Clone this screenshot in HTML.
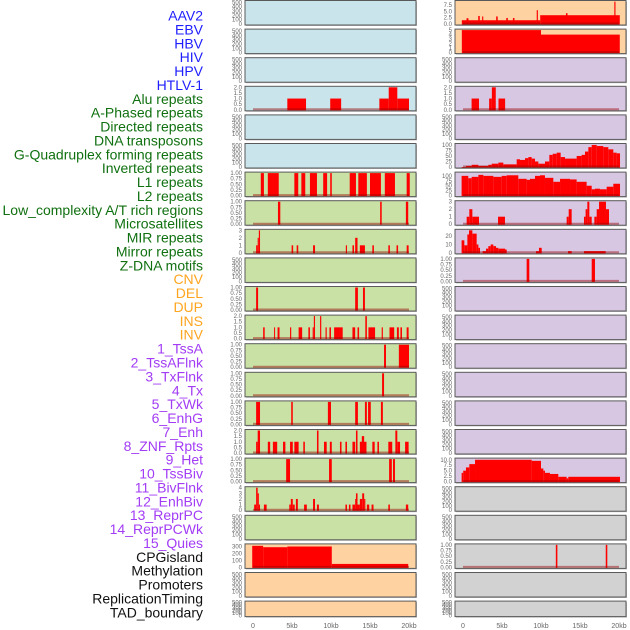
<!DOCTYPE html>
<html><head><meta charset="utf-8"><style>
html,body{margin:0;padding:0;background:#fff;overflow:hidden;}
svg{display:block;font-family:"Liberation Sans",sans-serif;}
</style></head><body>
<svg id="chart" width="630" height="630" viewBox="0 0 630 630"></svg>
<script>
// ---- labels ----
const trackLabels = ["AAV2","EBV","HBV","HIV","HPV","HTLV-1","Alu repeats","A-Phased repeats","Directed repeats","DNA transposons","G-Quadruplex forming repeats","Inverted repeats","L1 repeats","L2 repeats","Low_complexity A/T rich regions","Microsatellites","MIR repeats","Mirror repeats","Z-DNA motifs","CNV","DEL","DUP","INS","INV","1_TssA","2_TssAFlnk","3_TxFlnk","4_Tx","5_TxWk","6_EnhG","7_Enh","8_ZNF_Rpts","9_Het","10_TssBiv","11_BivFlnk","12_EnhBiv","13_ReprPC","14_ReprPCWk","15_Quies","CPGisland","Methylation","Promoters","ReplicationTiming","TAD_boundary"];
const labelGroups = ["v","v","v","v","v","v","r","r","r","r","r","r","r","r","r","r","r","r","r","s","s","s","s","s","c","c","c","c","c","c","c","c","c","c","c","c","c","c","c","o","o","o","o","o"];
const xTickValues = [0,5,10,15,20];
const xTickLabels = ["0","5kb","10kb","15kb","20kb"];

// ---- series (segments: [startKb, endKb, value]) ----
const leftAlu = [[4.4,6.8,1],[9.9,11.3,1],[16.2,17.4,1],[17.4,18.5,2],[18.5,20,1]];
const leftL1 = [[1.0,1.4,1],[1.9,3.3,1],[5.3,5.8,1],[6.2,6.7,1],[7.3,8.2,1],[9.0,9.5,1],[9.9,10.1,1],[12.4,13.2,1],[13.5,14.6,1],[15.0,16.4,1],[16.9,18.2,1],[19.7,20.1,1]];
const leftLowAT = [[3.2,3.5,1],[16.3,16.5,1],[19.6,19.9,1]];
const leftMicro = [[0.4,0.6,1],[0.6,0.75,2],[0.75,0.9,3],[4.95,5.15,1],[5.6,5.8,1],[7.7,7.95,1],[11.9,12.05,1],[12.75,12.95,1],[13.1,13.4,2],[13.7,14.35,1],[15.3,15.5,1],[17.35,17.55,1],[18.4,18.6,1],[19.7,19.95,1]];
const leftRow10 = [[0.4,0.65,1],[13.1,13.45,1],[14.1,14.35,1]];
const leftRow11 = [[1.3,1.5,1],[2.7,2.8,1],[3.15,3.4,1],[4.75,4.9,1],[5.85,6.3,1],[7.1,7.3,1],[7.65,7.8,1],[7.8,7.95,2],[8.6,8.75,2],[9.3,9.45,1],[9.8,10.0,1],[10.4,11.5,1],[12.75,13.1,1],[13.4,13.6,1],[14.4,14.6,2],[14.8,15.65,1],[16.5,16.65,1],[17.5,18.1,1],[18.45,18.7,1],[18.9,19.1,1],[19.7,19.95,1]];
const leftRow12 = [[16.8,17.05,1],[18.7,20.0,1]];
const leftRow13 = [[16.55,16.8,1]];
const leftRow14 = [[0.4,0.9,1],[4.9,5.1,1],[9.6,10.0,1],[13.1,13.45,1],[14.35,14.6,1],[14.75,15.1,1],[16.4,16.65,1]];
const leftRow15 = [[0.4,0.6,1],[0.6,0.9,2],[1.9,2.2,1],[2.55,3.1,1],[3.85,4.15,1],[4.75,5.1,1],[5.3,5.85,1],[6.45,6.65,1],[8.2,8.4,2],[9.1,9.45,1],[9.85,10.1,1],[11.15,11.35,1],[11.85,12.05,1],[12.75,13.1,1],[13.2,13.4,2],[13.7,14.55,1],[13.95,14.25,1.5],[15.3,15.6,1],[15.95,16.15,1],[17.35,17.85,1],[18.25,18.5,2],[18.5,18.85,1],[19.5,19.95,1]];
const leftRow16 = [[4.25,4.75,1],[9.75,10.1,1],[17.45,17.8,1],[17.95,18.2,1]];
const leftRow17 = [[0.15,0.4,1],[0.4,0.6,4],[0.6,0.75,3],[0.75,0.9,1],[1.4,1.75,1],[4.65,4.85,1],[4.85,5.1,2],[5.1,5.35,1],[5.5,5.75,2],[6.55,6.9,1],[7.7,7.95,2],[8.2,8.45,1],[11.85,12.05,1],[12.3,12.5,1],[12.75,13.1,1],[13.1,13.2,2],[13.2,13.4,3],[13.4,13.7,1],[13.7,14.0,2],[14.0,14.25,3],[14.25,14.4,2],[14.6,14.9,1],[15.2,15.45,1],[17.35,17.55,1],[19.6,19.9,1]];
const leftCpg = [[-0.1,1.3,310],[1.3,4.4,290],[4.4,10.1,300],[10.1,19.9,50]];

const rightAav2 = [[-0.15,9.9,1.5],[9.9,20.1,3.5],[0.45,0.7,2.3],[1.95,2.15,3.2],[2.45,2.6,3],[4.25,4.45,3],[5.55,5.75,2.4],[6.4,6.6,2.4],[9.45,9.6,5.5],[13.2,13.4,4.3],[19.4,19.55,8.9]];
const rightEbv = [[-0.15,10.0,5],[10.0,20.1,4]];
const rightAlu = [[1.1,2.05,1],[3.35,3.7,1],[3.7,4.2,2],[4.55,5.4,1]];
const gquadEdges = [-0.18,0.38,1.11,1.97,3.25,3.68,4.53,5.17,6.88,7.31,7.95,8.38,8.8,9.23,9.66,10.51,11.07,11.5,12.01,12.52,13.08,14.57,15.21,15.64,16.07,16.5,17.14,17.99,18.63,19.27,19.7,20.13];
const gquadValues = [0,5,10,5,10,15,20,12,35,32,40,45,38,25,15,25,55,60,65,45,38,50,55,70,90,100,95,90,80,65,62];
const l1Edges = [-0.18,0.68,1.11,1.97,2.61,3.89,4.96,5.6,7.09,8.16,8.59,9.23,9.87,10.51,11.58,12.44,13.72,14.57,15.85,16.5,16.92,17.56,18.42,19.27,20.13];
const l1Values = [100,88,95,105,100,95,100,103,85,80,85,100,103,90,70,85,82,70,50,32,35,32,45,60];
const rightRow7 = [[0.47,0.81,1],[0.81,1.2,2],[1.2,2.05,1],[4.49,5.38,1],[13.29,13.55,1],[13.55,13.93,2],[15.51,15.72,1],[15.72,15.94,2],[15.94,16.2,3],[16.2,16.5,1],[16.84,17.14,1],[17.14,17.44,2],[17.44,18.33,3],[18.33,18.72,2]];
const rightRow8 = [[-0.18,0.17,15],[0.17,0.56,9],[0.56,0.77,22],[0.77,1.2,27],[1.2,1.75,23],[1.75,1.97,10],[1.97,2.18,6],[2.52,2.95,2],[2.95,3.25,5],[3.25,3.55,8],[3.55,3.89,10],[3.89,4.23,8],[4.23,4.53,6],[4.53,5.38,5],[5.38,5.6,4],[9.36,9.74,2],[9.74,10.09,6],[13.46,13.93,2],[15.51,18.29,2]];
const rightRow9 = [[8.16,8.5,1],[16.5,16.92,1]];
const hetEdges = [-0.18,0.03,0.38,0.81,1.54,8.8,10.0,10.3,10.51,11.15,12.22,13.29,13.5,20.13];
const hetValues = [4,5,6.5,8,10,9.5,6,5,4,3.5,2.2,1.5,2.2];
const rightRow19 = [[11.9,12.1,1],[18.3,18.5,1]];

function stepsToSegments(edges, vals){ const s=[]; for(let i=0;i<vals.length;i++) s.push([edges[i],edges[i+1],vals[i]]); return s; }

const T = {
  e:{v:[0,100,200,300,400,500],f:v=>String(v),max:520},
  p1:{v:[0,0.25,0.5,0.75,1],f:v=>v.toFixed(2),max:1},
  p2:{v:[0,0.5,1,1.5,2],f:v=>v.toFixed(1),max:2},
  i3:{v:[0,1,2,3],f:v=>String(v),max:3},
  i4:{v:[0,1,2,3,4],f:v=>String(v),max:4},
  cpg:{v:[0,100,200,300],f:v=>String(v),max:323},
  aav:{v:[0,2.5,5,7.5],f:v=>v.toFixed(1),max:8.95},
  i5:{v:[0,1,2,3,4,5],f:v=>String(v),max:5},
  gq:{v:[0,25,50,75,100],f:v=>String(v),max:102},
  l1:{v:[0,25,50,75,100],f:v=>String(v),max:114},
  mir:{v:[0,10,20],f:v=>String(v),max:27},
  het:{v:[0,2.5,5,7.5,10],f:v=>v.toFixed(1),max:10.3}
};
const BG = {b:"#c9e4eb",g:"#c9e1a4",o:"#ffd3a1",p:"#d7c7e2",y:"#d2d2d2"};

const rows = [
 ["b","e",null,"o","aav",rightAav2],
 ["b","e",null,"o","i5",rightEbv],
 ["b","e",null,"p","e",null],
 ["b","p2",leftAlu,"p","p2",rightAlu],
 ["b","e",null,"p","e",null],
 ["b","e",null,"p","gq",stepsToSegments(gquadEdges,gquadValues)],
 ["g","p1",leftL1,"p","l1",stepsToSegments(l1Edges,l1Values)],
 ["g","p1",leftLowAT,"p","i3",rightRow7],
 ["g","i3",leftMicro,"p","mir",rightRow8],
 ["g","e",null,"p","p1",rightRow9],
 ["g","p1",leftRow10,"p","e",null],
 ["g","p2",leftRow11,"p","e",null],
 ["g","p1",leftRow12,"p","e",null],
 ["g","p1",leftRow13,"p","e",null],
 ["g","p1",leftRow14,"p","e",null],
 ["g","p2",leftRow15,"p","e",null],
 ["g","p1",leftRow16,"p","het",stepsToSegments(hetEdges,hetValues)],
 ["g","i4",leftRow17,"y","e",null],
 ["g","e",null,"y","e",null],
 ["o","cpg",leftCpg,"y","p1",rightRow19],
 ["o","e",null,"y","e",null],
 ["o","e",null,"y","e",null]
];

const NS="http://www.w3.org/2000/svg";
const svg=document.getElementById("chart");
function mk(tag,attrs,parent){const e=document.createElementNS(NS,tag);for(const k in attrs)e.setAttribute(k,attrs[k]);(parent||svg).appendChild(e);return e;}

const colors={v:"#1e1eff",r:"#107010",s:"#ffa520",c:"#a23cf5",o:"#111111"};
trackLabels.forEach((t,i)=>{
  const e=mk("text",{x:203,y:20.5+i*13.88,"text-anchor":"end","font-size":"14",fill:colors[labelGroups[i]]});
  e.textContent=t;
  
  
});

const cols=[{x0:245,x1:416,z:253},{x0:455,x1:626,z:463}];
const KB=7.8;
function xScale(c,kb){return cols[c].z+kb*KB;}

rows.forEach((r,i)=>{
  const top=0.5+i*28.6, h=(i===rows.length-1)?15.5:24.5, bot=top+h;
  for(let c=0;c<2;c++){
    const bg=r[c*3], tk=T[r[c*3+1]], data=r[c*3+2];
    const g=mk("g",{});
    
    
    const sh=mk("rect",{x:cols[c].x0+1,y:top+1,width:cols[c].x1-cols[c].x0,height:h,fill:"#bbbbbb"},g);
    
    
    const rect=mk("rect",{x:cols[c].x0,y:top,width:cols[c].x1-cols[c].x0,height:h,fill:BG[bg],stroke:"#5a5a5a","stroke-width":1},g);
    
    
    const y0=bot-1, y1=top+1;
    const yS=v=>y0-(v/tk.max)*(y0-y1);
    tk.v.forEach(v=>{
      const t=mk("text",{x:cols[c].x0-3,y:yS(v)+2,"text-anchor":"end","font-size":"6",fill:"#666"},g);
      t.textContent=tk.f(v);
      
      
    });
    if(data){
      data.forEach(s=>{
        const xa=xScale(c,s[0]), xb=xScale(c,s[1]);
        const b=mk("rect",{x:xa,y:yS(s[2]),width:Math.max(xb-xa,1),height:y0-yS(s[2])+0.5,fill:"#ff0000"},g);
        
        
      });
      const bl=mk("line",{x1:xScale(c,0),x2:xScale(c,20),y1:y0-0.5,y2:y0-0.5,stroke:"rgba(150,0,0,0.45)","stroke-width":2},g);
      
      
    }
  }
});

for(let c=0;c<2;c++){
  xTickValues.forEach((v,k)=>{
    const t=mk("text",{x:xScale(c,v),y:628,"text-anchor":"middle","font-size":"7",fill:"#666"});
    t.textContent=xTickLabels[k];
    
    
  });
}
</script>
</body></html>
